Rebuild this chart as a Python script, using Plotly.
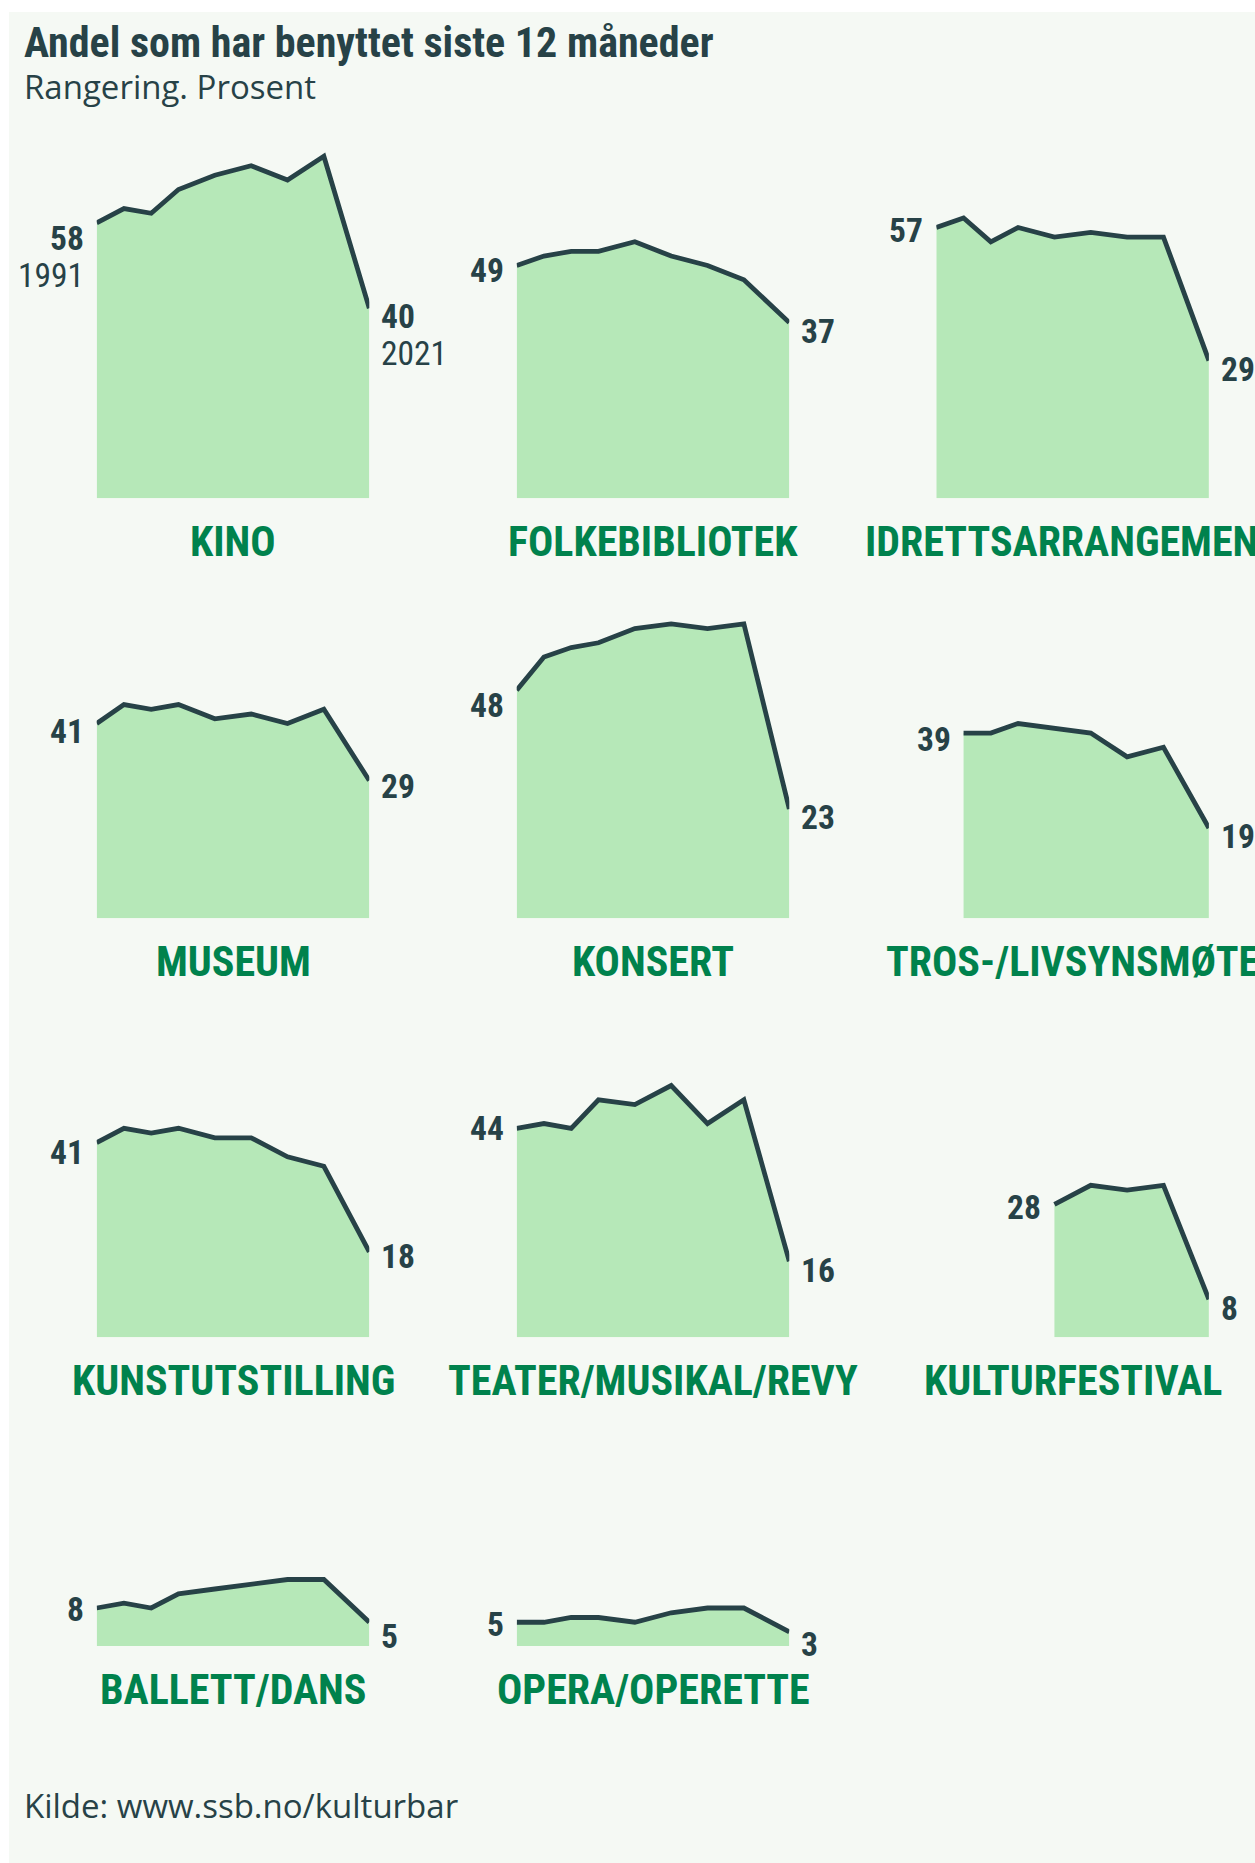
import plotly.graph_objects as go

# --- data: share (%) who used each offer in the last 12 months ---
years = [1991, 1994, 1997, 2000, 2004, 2008, 2012, 2016, 2021]

categories = [
    "KINO", "FOLKEBIBLIOTEK", "IDRETTSARRANGEMENT",
    "MUSEUM", "KONSERT", "TROS-/LIVSYNSMØTE",
    "KUNSTUTSTILLING", "TEATER/MUSIKAL/REVY", "KULTURFESTIVAL",
    "BALLETT/DANS", "OPERA/OPERETTE",
]

kino = [58, 61, 60, 65, 68, 70, 67, 72, 40]
folkebibliotek = [49, 51, 52, 52, 54, 51, 49, 46, 37]
idrettsarrangement = [57, 59, 54, 57, 55, 56, 55, 55, 29]
museum = [41, 45, 44, 45, 42, 43, 41, 44, 29]
konsert = [48, 55, 57, 58, 61, 62, 61, 62, 23]
tros_livssyn = [None, 39, 39, 41, 40, 39, 34, 36, 19]
kunstutstilling = [41, 44, 43, 44, 42, 42, 38, 36, 18]
teater = [44, 45, 44, 50, 49, 53, 45, 50, 16]
kulturfestival = [None, None, None, None, 28, 32, 31, 32, 8]
ballett = [8, 9, 8, 11, 12, 13, 14, 14, 5]
opera = [5, 5, 6, 6, 5, 7, 8, 8, 3]

series = [kino, folkebibliotek, idrettsarrangement, museum, konsert,
          tros_livssyn, kunstutstilling, teater, kulturfestival,
          ballett, opera]

title = "Andel som har benyttet siste 12 måneder"
subtitle = "Rangering. Prosent"
source = "Kilde: www.ssb.no/kulturbar"

# --- layout constants (pixels) ---
W, H = 1255, 1863
PX_PER_PCT = 4.75
Y_MAX = 80
COL_LEFT = [96.7, 516.7, 936.3]
PANEL_W = 272.6
ROW_BOTTOM = [498.3, 918.3, 1337.3, 1646.0]

# vertical nudges (px below the point) for start / end value labels
label_drop = {
    "KINO": (16, 8), "FOLKEBIBLIOTEK": (5, 9), "IDRETTSARRANGEMENT": (3, 9),
    "MUSEUM": (8, 6), "KONSERT": (15, 8), "TROS-/LIVSYNSMØTE": (6, 8),
    "KUNSTUTSTILLING": (10, 5), "TEATER/MUSIKAL/REVY": (0, 9),
    "KULTURFESTIVAL": (3, 9), "BALLETT/DANS": (1, 14), "OPERA/OPERETTE": (2, 13),
}

DARK = "#274247"
GREEN = "#00824d"
FILL = "#b6e8b8"
BG = "#f5f9f4"
NARROW = "Roboto Condensed, Liberation Sans Narrow, Roboto, sans-serif"
BODY = "Open Sans, sans-serif"
VALUE_SIZE = 33.5

fig = go.Figure()
annotations = []

for i, (name, vals) in enumerate(zip(categories, series)):
    r, c = divmod(i, 3)
    n = i + 1
    xa = "x" if n == 1 else f"x{n}"
    ya = "y" if n == 1 else f"y{n}"
    x0 = COL_LEFT[c]
    bottom = ROW_BOTTOM[r]
    span = Y_MAX * PX_PER_PCT

    fig.update_layout(**{
        ("xaxis" if n == 1 else f"xaxis{n}"): dict(
            domain=[x0 / W, (x0 + PANEL_W) / W], range=[years[0], years[-1]],
            visible=False, fixedrange=True),
        ("yaxis" if n == 1 else f"yaxis{n}"): dict(
            domain=[(H - bottom) / H, (H - bottom + span) / H], range=[0, Y_MAX],
            visible=False, fixedrange=True),
    })

    xs = [y for y, v in zip(years, vals) if v is not None]
    vs = [v for v in vals if v is not None]

    fig.add_trace(go.Scatter(
        x=xs, y=vs, xaxis=xa, yaxis=ya, mode="lines",
        line=dict(color=DARK, width=4.8),
        fill="tozeroy", fillcolor=FILL, hoverinfo="skip", showlegend=False,
    ))

    d_start, d_end = label_drop[name]
    annotations.append(dict(
        x=xs[0], y=vs[0], xref=xa, yref=ya, text=f"<b>{vs[0]}</b>",
        showarrow=False, xanchor="right", yanchor="middle",
        xshift=-11, yshift=-d_start,
        font=dict(family=NARROW, size=VALUE_SIZE, color=DARK)))
    annotations.append(dict(
        x=xs[-1], y=vs[-1], xref=xa, yref=ya, text=f"<b>{vs[-1]}</b>",
        showarrow=False, xanchor="left", yanchor="middle",
        xshift=10, yshift=-d_end,
        font=dict(family=NARROW, size=VALUE_SIZE, color=DARK)))
    if i == 0:
        annotations.append(dict(
            x=xs[0], y=vs[0], xref=xa, yref=ya, text=str(years[0]),
            showarrow=False, xanchor="right", yanchor="middle",
            xshift=-11, yshift=-d_start - 37,
            font=dict(family=NARROW, size=VALUE_SIZE, color=DARK)))
        annotations.append(dict(
            x=xs[-1], y=vs[-1], xref=xa, yref=ya, text=str(years[-1]),
            showarrow=False, xanchor="left", yanchor="middle",
            xshift=10, yshift=-d_end - 37,
            font=dict(family=NARROW, size=VALUE_SIZE, color=DARK)))

    annotations.append(dict(
        x=(years[0] + years[-1]) / 2, y=0, xref=xa, yref=ya,
        text=f"<b>{name}</b>", showarrow=False,
        xanchor="center", yanchor="middle", yshift=-43,
        font=dict(family=NARROW, size=42, color=GREEN)))

# heading and source
annotations += [
    dict(x=22 / W, y=1 - 43 / H, xref="paper", yref="paper", text=f"<b>{title}</b>",
         showarrow=False, xanchor="left", yanchor="middle",
         font=dict(family=NARROW, size=42, color=DARK)),
    dict(x=22 / W, y=1 - 87 / H, xref="paper", yref="paper", text=subtitle,
         showarrow=False, xanchor="left", yanchor="middle",
         font=dict(family=BODY, size=33, color=DARK)),
    dict(x=22 / W, y=1 - 1805 / H, xref="paper", yref="paper", text=source,
         showarrow=False, xanchor="left", yanchor="middle",
         font=dict(family=BODY, size=33, color=DARK)),
]

fig.update_layout(
    width=W, height=H, margin=dict(l=0, r=0, t=0, b=0),
    paper_bgcolor="white", plot_bgcolor="rgba(0,0,0,0)",
    annotations=annotations,
    shapes=[dict(type="rect", xref="paper", yref="paper",
                 x0=9 / W, x1=1, y0=0, y1=1 - 12 / H,
                 fillcolor=BG, line=dict(width=0), layer="below")],
    hovermode=False,
)

fig.write_html("out.html", config={"displayModeBar": False})
